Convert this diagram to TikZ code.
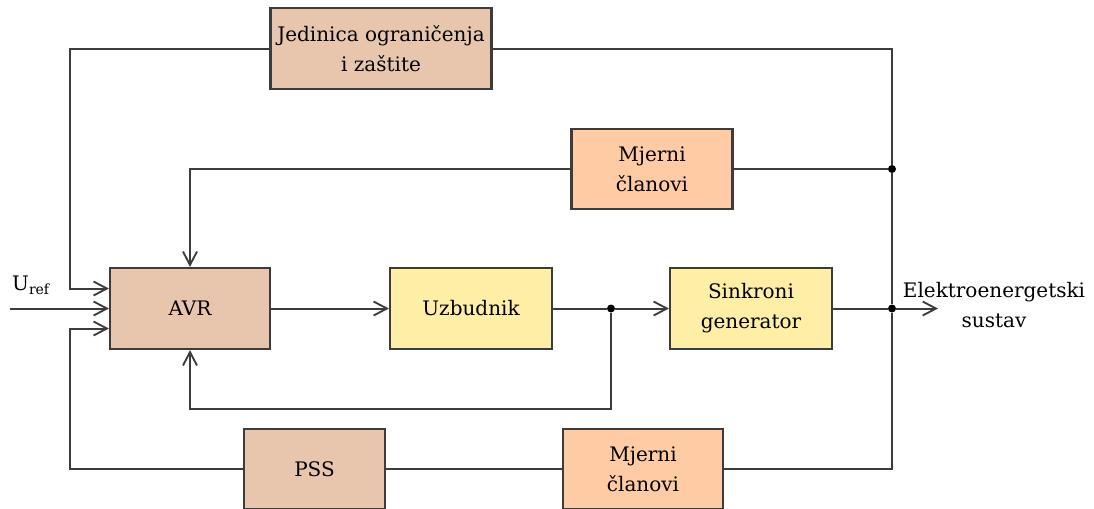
\documentclass[tikz,border=0pt]{standalone}
\usepackage{fontspec}
\setmainfont{DejaVu Serif}
\usetikzlibrary{arrows.meta}
\definecolor{tanfill}{HTML}{E8C6AE}
\definecolor{peachfill}{HTML}{FFCBA4}
\definecolor{yellowfill}{HTML}{FFEEA6}
\definecolor{linecol}{HTML}{3C3C3C}
\tikzset{
  block/.style={draw=linecol, line width=1.6pt, rectangle, align=center, inner sep=2pt},
  tanbox/.style={block, fill=tanfill},
  peachbox/.style={block, fill=peachfill},
  yellowbox/.style={block, fill=yellowfill},
  conn/.style={draw=linecol, line width=1.5pt},
  arr/.style={conn, -{Straight Barb[length=10pt,width=10.5pt,line width=1.4pt]}},
  junction/.style={circle, fill=black, inner sep=0pt, minimum size=6pt},
  lbl/.style={align=center, inner sep=0pt}
}
\begin{document}
\begin{tikzpicture}[x=0.75pt,y=-0.75pt, font=\fontsize{15}{22.5}\selectfont]
\useasboundingbox (0,0) rectangle (1094,508);

% blocks
\node[tanbox, minimum width=165.75pt, minimum height=60.75pt] (jed) at (381,48.5) {Jedinica ograničenja\\i zaštite};
\node[tanbox, minimum width=120pt, minimum height=60.75pt] (avr) at (190,308.5) {AVR};
\node[peachbox, minimum width=120.75pt, minimum height=60pt] (mj1) at (652,169) {Mjerni\\članovi};
\node[yellowbox, minimum width=121.5pt, minimum height=60.75pt] (uzb) at (471,308.5) {Uzbudnik};
\node[yellowbox, minimum width=121.5pt, minimum height=60.75pt] (sg) at (751,308.5) {Sinkroni\\generator};
\node[tanbox, minimum width=105.75pt, minimum height=60pt] (pss) at (314.5,469) {PSS};
\node[peachbox, minimum width=120pt, minimum height=60pt] (mj2) at (643,469) {Mjerni\\članovi};

% junctions and corner coordinates
\node[junction] (j1) at (892,169) {};
\node[junction] (j2) at (611,308.5) {};
\node[junction] (j3) at (892,308.5) {};
\coordinate (tl) at (70,48.5);
\coordinate (bl) at (70,469);
\coordinate (fb) at (611,409);
\coordinate (in) at (10,308.5);
\coordinate (out) at (938,308.5);

% labels
\node[lbl] (uref) at (31,285) {U\textsubscript{ref}};
\node[lbl] (ees) at (994,305) {Elektroenergetski\\sustav};

% connectors
\draw[arr] (jed.west) -- (tl) |- ([yshift=15pt]avr.west);
\draw[conn] (jed.east) -| (j1);
\draw[conn] (j1) -- (j3);
\draw[conn] (j3) |- (mj2.east);
\draw[conn] (mj1.east) -- (j1);
\draw[arr] (mj1.west) -| (avr.north);
\draw[arr] (in) -- (avr.west);
\draw[arr] (avr.east) -- (uzb.west);
\draw[conn] (uzb.east) -- (j2);
\draw[arr] (j2) -- (sg.west);
\draw[arr] (j2) -- (fb) -| (avr.south);
\draw[conn] (sg.east) -- (j3);
\draw[arr] (j3) -- (out);
\draw[conn] (mj2.west) -- (pss.east);
\draw[arr] (pss.west) -- (bl) |- ([yshift=-15pt]avr.west);
\end{tikzpicture}
\end{document}
